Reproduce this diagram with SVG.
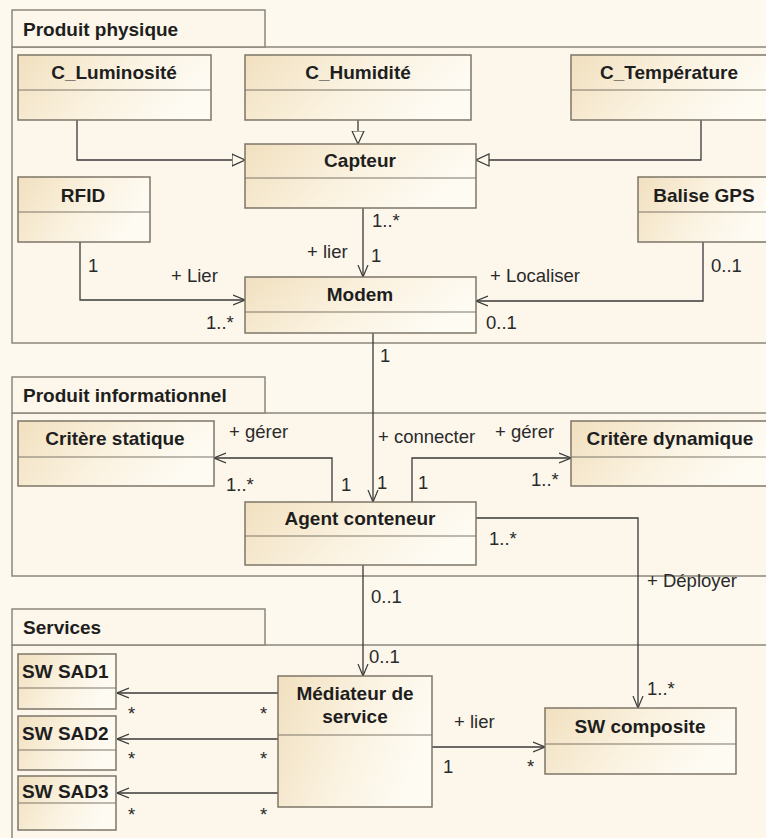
<svg xmlns="http://www.w3.org/2000/svg" width="766" height="838" viewBox="0 0 766 838">
<defs>
<linearGradient id="cg" x1="0" y1="0" x2="1" y2="0.3">
<stop offset="0" stop-color="#f1e0bf"/>
<stop offset="0.6" stop-color="#fbf3e2"/>
<stop offset="1" stop-color="#fefbf3"/>
</linearGradient>
<marker id="oa" viewBox="0 0 12 12" refX="12" refY="6" markerWidth="12" markerHeight="12" markerUnits="userSpaceOnUse" orient="auto">
<path d="M0,1 L12,6 L0,11" fill="none" stroke="#3a3a3a" stroke-width="1.2"/>
</marker>
<marker id="tri" viewBox="0 0 14 14" refX="13.5" refY="7" markerWidth="14" markerHeight="14" markerUnits="userSpaceOnUse" orient="auto">
<path d="M0.5,1 L13.5,7 L0.5,13 Z" fill="#fdf8ec" stroke="#3a3a3a" stroke-width="1.2"/>
</marker>
</defs>
<style>
.bg{fill:#fdf9ef}
.pkg{fill:#fcf7ea;stroke:#8c877c;stroke-width:1.5}
.box{fill:url(#cg);stroke:#7d7668;stroke-width:1.5}
.div{stroke:#7d7668;stroke-width:1.2}
.t{font-family:"Liberation Sans",Arial,sans-serif;font-size:19px;font-weight:bold;fill:#1e1e1e}
.tc{text-anchor:middle}
.l{font-family:"Liberation Sans",Arial,sans-serif;font-size:18.5px;fill:#2a2a2a}
.c{fill:none;stroke:#3a3a3a;stroke-width:1.3}
</style>
<rect class="bg" x="0" y="0" width="766" height="838"/>

<g id="pkg-physique">
<rect class="pkg" x="12" y="47" width="760" height="296"/>
<rect class="pkg" x="12" y="10" width="253" height="37"/>
<text class="t" x="23" y="36">Produit physique</text>
</g>
<g id="pkg-informationnel">
<rect class="pkg" x="12" y="413" width="760" height="163"/>
<rect class="pkg" x="12" y="377" width="253" height="36"/>
<text class="t" x="23" y="402">Produit informationnel</text>
</g>
<g id="pkg-services">
<rect class="pkg" x="12" y="645" width="760" height="200"/>
<rect class="pkg" x="12" y="609" width="253" height="36"/>
<text class="t" x="23" y="634">Services</text>
</g>

<g id="connectors">
<!-- generalizations -->
<polyline class="c" points="358,120 358,144" marker-end="url(#tri)"/>
<polyline class="c" points="77,120 77,160 245,160" marker-end="url(#tri)"/>
<polyline class="c" points="701,120 701,160 476,160" marker-end="url(#tri)"/>
<!-- associations -->
<polyline class="c" points="363,208 363,277" marker-end="url(#oa)"/>
<polyline class="c" points="80,242 80,300 245,300" marker-end="url(#oa)"/>
<polyline class="c" points="703,242 703,301 476,301" marker-end="url(#oa)"/>
<polyline class="c" points="373,333 373,502" marker-end="url(#oa)"/>
<polyline class="c" points="332,502 332,458 214,458" marker-end="url(#oa)"/>
<polyline class="c" points="412,502 412,458 571,458" marker-end="url(#oa)"/>
<polyline class="c" points="476,518 638,518 638,708" marker-end="url(#oa)"/>
<polyline class="c" points="363,565 363,676" marker-end="url(#oa)"/>
<polyline class="c" points="278,693 117,693" marker-end="url(#oa)"/>
<polyline class="c" points="278,739 117,739" marker-end="url(#oa)"/>
<polyline class="c" points="278,793 117,793" marker-end="url(#oa)"/>
<polyline class="c" points="432,747 545,747" marker-end="url(#oa)"/>
<!-- labels -->
<text class="l" x="372" y="227">1..*</text>
<text class="l" x="307" y="258">+ lier</text>
<text class="l" x="371" y="262">1</text>
<text class="l" x="88" y="272">1</text>
<text class="l" x="171" y="282">+ Lier</text>
<text class="l" x="206" y="329">1..*</text>
<text class="l" x="711" y="272">0..1</text>
<text class="l" x="490" y="282">+ Localiser</text>
<text class="l" x="486" y="329">0..1</text>
<text class="l" x="380" y="362">1</text>
<text class="l" x="378" y="443">+ connecter</text>
<text class="l" x="377" y="489">1</text>
<text class="l" x="229" y="438">+ gérer</text>
<text class="l" x="226" y="491">1..*</text>
<text class="l" x="341" y="491">1</text>
<text class="l" x="418" y="489">1</text>
<text class="l" x="495" y="438">+ gérer</text>
<text class="l" x="531" y="486">1..*</text>
<text class="l" x="489" y="545">1..*</text>
<text class="l" x="647" y="587">+ Déployer</text>
<text class="l" x="371" y="603">0..1</text>
<text class="l" x="369" y="663">0..1</text>
<text class="l" x="647" y="695">1..*</text>
<text class="l" x="454" y="728">+ lier</text>
<text class="l" x="443" y="773">1</text>
<text class="l" x="527" y="773">*</text>
<text class="l" x="128" y="720">*</text>
<text class="l" x="260" y="720">*</text>
<text class="l" x="128" y="765">*</text>
<text class="l" x="260" y="765">*</text>
<text class="l" x="128" y="821">*</text>
<text class="l" x="260" y="821">*</text>
</g>

<g id="c-luminosite">
<rect class="box" x="18" y="55" width="193" height="65"/>
<line class="div" x1="18" y1="90" x2="211" y2="90"/>
<text class="t tc" x="114" y="79">C_Luminosité</text>
</g>
<g id="c-humidite">
<rect class="box" x="245" y="55" width="226" height="65"/>
<line class="div" x1="245" y1="90" x2="471" y2="90"/>
<text class="t tc" x="358" y="79">C_Humidité</text>
</g>
<g id="c-temperature">
<rect class="box" x="571" y="55" width="200" height="65"/>
<line class="div" x1="571" y1="90" x2="771" y2="90"/>
<text class="t tc" x="669" y="79">C_Température</text>
</g>
<g id="capteur">
<rect class="box" x="245" y="144" width="231" height="64"/>
<line class="div" x1="245" y1="178" x2="476" y2="178"/>
<text class="t tc" x="360" y="167">Capteur</text>
</g>
<g id="rfid">
<rect class="box" x="18" y="177" width="132" height="65"/>
<line class="div" x1="18" y1="212" x2="150" y2="212"/>
<text class="t tc" x="83" y="202">RFID</text>
</g>
<g id="balise-gps">
<rect class="box" x="638" y="177" width="133" height="65"/>
<line class="div" x1="638" y1="212" x2="771" y2="212"/>
<text class="t tc" x="704" y="202">Balise GPS</text>
</g>
<g id="modem">
<rect class="box" x="245" y="277" width="231" height="56"/>
<line class="div" x1="245" y1="312" x2="476" y2="312"/>
<text class="t tc" x="360" y="301">Modem</text>
</g>
<g id="critere-statique">
<rect class="box" x="18" y="421" width="196" height="65"/>
<line class="div" x1="18" y1="457" x2="214" y2="457"/>
<text class="t tc" x="115" y="445">Critère statique</text>
</g>
<g id="critere-dynamique">
<rect class="box" x="571" y="421" width="200" height="65"/>
<line class="div" x1="571" y1="457" x2="771" y2="457"/>
<text class="t tc" x="670" y="445">Critère dynamique</text>
</g>
<g id="agent-conteneur">
<rect class="box" x="245" y="502" width="231" height="63"/>
<line class="div" x1="245" y1="536" x2="476" y2="536"/>
<text class="t tc" x="360" y="525">Agent conteneur</text>
</g>
<g id="sw-sad1">
<rect class="box" x="18" y="654" width="98" height="55"/>
<line class="div" x1="18" y1="688" x2="116" y2="688"/>
<text class="t" x="22" y="678">SW SAD1</text>
</g>
<g id="sw-sad2">
<rect class="box" x="18" y="716" width="98" height="54"/>
<line class="div" x1="18" y1="750" x2="116" y2="750"/>
<text class="t" x="22" y="740">SW SAD2</text>
</g>
<g id="sw-sad3">
<rect class="box" x="18" y="776" width="98" height="54"/>
<line class="div" x1="18" y1="803" x2="116" y2="803"/>
<text class="t" x="22" y="798">SW SAD3</text>
</g>
<g id="mediateur">
<rect class="box" x="278" y="676" width="154" height="131"/>
<line class="div" x1="278" y1="735" x2="432" y2="735"/>
<text class="t tc" x="355" y="700">Médiateur de</text>
<text class="t tc" x="355" y="723">service</text>
</g>
<g id="sw-composite">
<rect class="box" x="545" y="708" width="191" height="66"/>
<line class="div" x1="545" y1="744" x2="736" y2="744"/>
<text class="t tc" x="640" y="733">SW composite</text>
</g>
</svg>
